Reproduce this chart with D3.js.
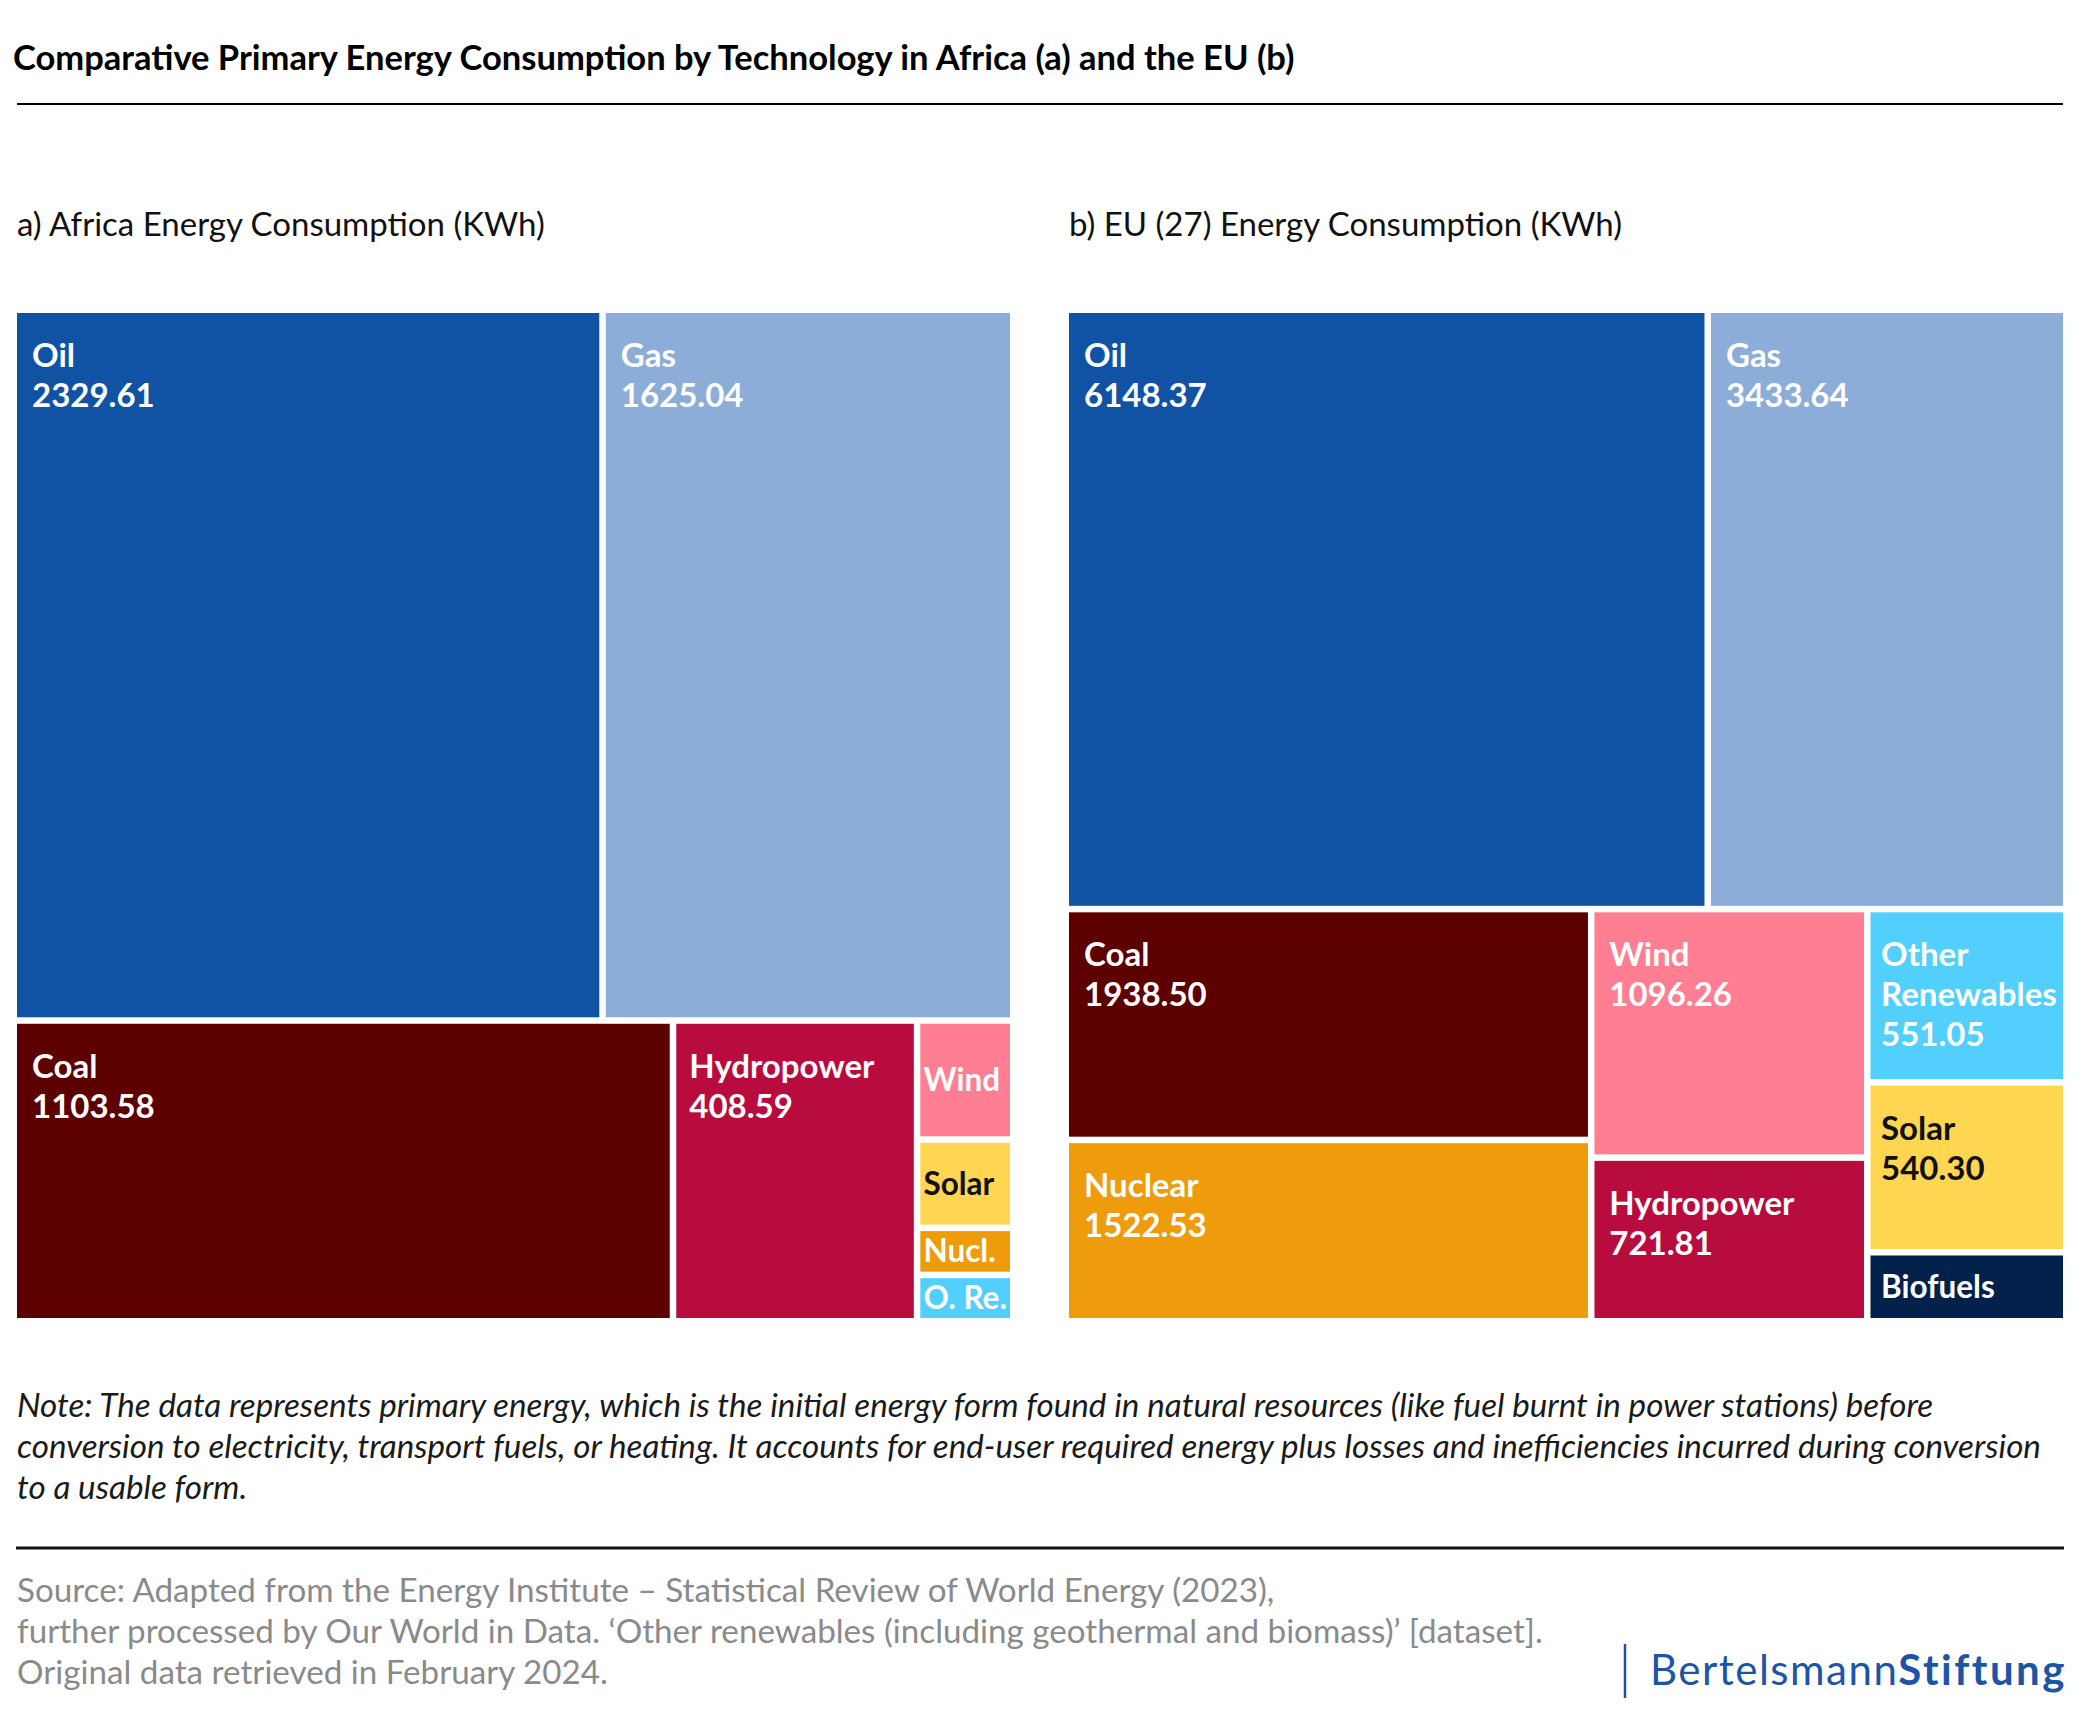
<!DOCTYPE html>
<html>
<head>
<meta charset="utf-8">
<script src="https://cdn.jsdelivr.net/npm/d3@7"></script>
<style>
  body { margin: 0; background: #fff; }
  svg { display: block; font-family: Lato, "Noto Sans", sans-serif; }
</style>
</head>
<body>
<svg id="chart" width="2084" height="1719"></svg>
<script>
// technologies, in the same order in every array
const categories = ["Oil", "Gas", "Coal", "Hydropower", "Nuclear", "Wind", "Solar", "Other Renewables", "Biofuels"];
const shortNames = ["Oil", "Gas", "Coal", "Hydro", "Nucl.", "Wind", "Solar", "O. Re.", "Bio."];
const techColors = ["#1053a5", "#8cadd7", "#5c0000", "#b80c3e", "#ee9b0c", "#ff7e91", "#fed651", "#52cffc", "#03224b"];
const darkLabelTech = ["Solar"];

const africaValues = [2329.61, 1625.04, 1103.58, 408.59, 25.2, 63.7, 47.3, 24.8, 0];
const euValues = [6148.37, 3433.64, 1938.50, 721.81, 1522.53, 1096.26, 540.30, 551.05, 219.5];

const panelTitles = ["a) Africa Energy Consumption (KWh)", "b) EU (27) Energy Consumption (KWh)"];

const noteLines = [
  "Note: The data represents primary energy, which is the initial energy form found in natural resources (like fuel burnt in power stations) before",
  "conversion to electricity, transport fuels, or heating. It accounts for end-user required energy plus losses and inefficiencies incurred during conversion",
  "to a usable form."
];
const sourceLines = [
  "Source: Adapted from the Energy Institute \u2013 Statistical Review of World Energy (2023),",
  "further processed by Our World in Data. \u2018Other renewables (including geothermal and biomass)\u2019 [dataset].",
  "Original data retrieved in February 2024."
];

const config = {
  treeTop: 313,
  treeHeight: 1005,
  panels: [{x: 17, width: 993}, {x: 1069, width: 994}],
  gap: 6.5,
  labelSize: 33,
  compactSize: 31.5
};

const svg = d3.select("#chart");
const color = d3.scaleOrdinal().domain(categories).range(techColors);
const fmt = d3.format(".2f");

// header
svg.append("text")
    .attr("x", 13).attr("y", 70)
    .attr("font-size", 34.5).attr("font-weight", 700).attr("fill", "#000")
    .text("Comparative Primary Energy Consumption by Technology in Africa (a) and the EU (b)");
svg.append("line")
    .attr("x1", 17).attr("x2", 2063).attr("y1", 104).attr("y2", 104)
    .attr("stroke", "#000").attr("stroke-width", 2);

function drawLabel(g, d) {
  let w = d.x1 - d.x0, h = d.y1 - d.y0;
  let inset = Math.min(15, w * 0.055);
  let text = g.append("text")
      .attr("font-size", config.labelSize)
      .attr("font-weight", 700)
      .attr("fill", darkLabelTech.includes(d.data.name) ? "#111" : "#fff");

  let compact = w < 120 || h < 100;
  if (compact) {
    // only the name, centred vertically
    if (w < 120) inset = w * 0.035;
    text.attr("font-size", config.compactSize)
        .attr("x", d.x0 + inset).attr("y", (d.y0 + d.y1) / 2 + 11)
        .text(d.data.name);
    if (text.node().getComputedTextLength() > w - 2 * inset) text.text(d.data.short);
    return;
  }

  // wrap the name on word breaks, then the value
  let maxW = w - 2 * inset;
  let lines = [], line = [];
  d.data.name.split(" ").forEach(word => {
    line.push(word);
    text.text(line.join(" "));
    if (text.node().getComputedTextLength() > maxW && line.length > 1) {
      line.pop();
      lines.push(line.join(" "));
      line = [word];
    }
  });
  lines.push(line.join(" "));
  lines.push(fmt(d.value));
  text.text(null);
  lines.forEach((l, i) => {
    text.append("tspan")
        .attr("x", d.x0 + inset)
        .attr("y", d.y0 + 54 + i * 40)
        .text(l);
  });
}

[africaValues, euValues].forEach((values, pi) => {
  let panel = config.panels[pi];

  svg.append("text")
      .attr("x", panel.x).attr("y", 236)
      .attr("font-size", 33).attr("fill", "#111")
      .text(panelTitles[pi]);

  let leaves = categories
      .map((c, i) => ({name: c, short: shortNames[i], value: values[i]}))
      .filter(d => d.value > 0);

  let root = d3.hierarchy({children: leaves})
      .sum(d => d.value || 0)
      .sort((a, b) => b.value - a.value);

  d3.treemap()
      .tile(d3.treemapSquarify)
      .size([panel.width, config.treeHeight])
      .paddingInner(config.gap)(root);

  let g = svg.append("g")
      .attr("transform", `translate(${panel.x},${config.treeTop})`);

  let cell = g.selectAll(".cell")
      .data(root.leaves())
    .join("g")
      .attr("class", "cell");

  cell.append("rect")
      .attr("x", d => d.x0)
      .attr("y", d => d.y0)
      .attr("width", d => d.x1 - d.x0)
      .attr("height", d => d.y1 - d.y0)
      .attr("fill", d => color(d.data.name));

  cell.each(function(d) { drawLabel(d3.select(this), d); });
});

// note
let note = svg.append("text")
    .attr("font-size", 33.2).attr("font-style", "italic").attr("fill", "#1a1a1a");
noteLines.forEach((l, i) => {
  note.append("tspan").attr("x", 17).attr("y", 1417 + i * 41).text(l);
});

svg.append("line")
    .attr("x1", 16).attr("x2", 2064).attr("y1", 1548).attr("y2", 1548)
    .attr("stroke", "#111").attr("stroke-width", 3);

// source
let source = svg.append("text")
    .attr("font-size", 33.2).attr("fill", "#8a8a8a");
sourceLines.forEach((l, i) => {
  source.append("tspan").attr("x", 17).attr("y", 1602 + i * 41).text(l);
});

// logo
svg.append("line")
    .attr("x1", 1625).attr("x2", 1625).attr("y1", 1644).attr("y2", 1698)
    .attr("stroke", "#1c55a5").attr("stroke-width", 2.5);
let logo = svg.append("text")
    .attr("x", 1650).attr("y", 1685)
    .attr("font-size", 42).attr("fill", "#1c55a5");
logo.append("tspan").attr("letter-spacing", 1.5).text("Bertelsmann");
logo.append("tspan").attr("font-weight", 700).attr("letter-spacing", 2.5).text("Stiftung");
</script>
</body>
</html>
